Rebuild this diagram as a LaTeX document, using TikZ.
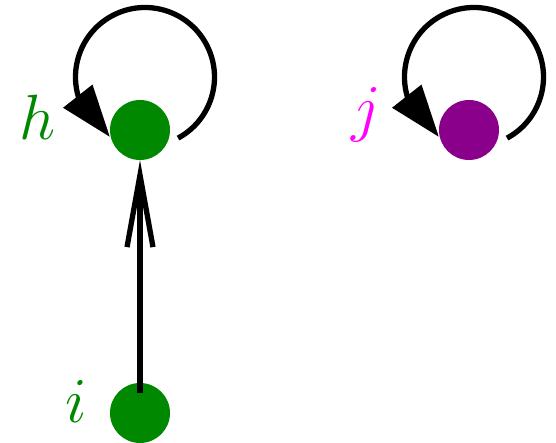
\documentclass[tikz,border=0pt]{standalone}
\usetikzlibrary{arrows.meta,bending}
\definecolor{ngreen}{RGB}{0,136,0}
\definecolor{npurple}{RGB}{139,0,139}
\definecolor{lmag}{RGB}{255,0,255}
\begin{document}
\begin{tikzpicture}[x=1pt,y=1pt,
  vertex/.style={circle,minimum size=60pt,inner sep=0pt,draw=none},
  lbl/.style={anchor=base,inner sep=0pt},
  edge/.style={line width=5.3pt},
  looptip/.style={-{Triangle[length=52pt,width=36pt,flex]}}]
\useasboundingbox (0,0) rectangle (556,443);
\node[vertex,fill=ngreen] (h) at (140,313) {};
\node[vertex,fill=npurple] (j) at (469,313) {};
\node[vertex,fill=ngreen] (i) at (140,30) {};
\node[lbl,text=ngreen] (hl) at (38,303) {\scalebox{2.572}{\Huge$h$}};
\node[lbl,text=lmag] (jl) at (366,313) {\scalebox{2.572}{\Huge$j$}};
\node[lbl,text=ngreen] (il) at (76,20) {\scalebox{2.572}{\Huge$i$}};
\draw[edge,shorten <=-10pt,-{Straight Barb[length=72pt,width=26pt,sharp]}] (i) -- (h);
\foreach \n in {h,j}{
\draw[edge,looptip] ([shift={(5,53)}]\n.center) ++(-61.6:69.5)
  arc[start angle=-61.6,end angle=239.7,radius=69.5];
}
\end{tikzpicture}
\end{document}
